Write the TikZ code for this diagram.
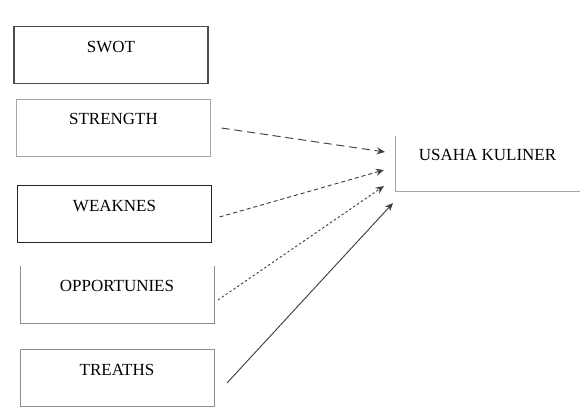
\documentclass[tikz,border=0pt]{standalone}
\usepackage{fontspec}
\setmainfont{Liberation Serif}
\usetikzlibrary{calc, positioning, arrows.meta}

\begin{document}
\begin{tikzpicture}[
    x=0.03cm, y=-0.03cm,
    >={Stealth[length=7pt, width=6pt]},
    font=\fontsize{14.5}{16}\selectfont,
    box/.style={minimum width=5.82cm, minimum height=1.71cm, inner sep=0pt,
        outer sep=0pt, text height=10pt, text depth=15pt},
    link/.style={->, draw=black!75, line width=0.8pt}
]
    \useasboundingbox (0, 0) rectangle (580, 406);

    % SWOT Boxes (Left Side)
    \node[box, draw=black!70, line width=0.9pt] (swot) at (111, 55) {SWOT};
    \node[box, draw=black!35, line width=0.8pt] (strength) at (113.5, 127.5) {STRENGTH};
    \node[box, draw=black!85, line width=1.3pt] (weak) at (114.5, 214) {WEAKNES};
    \node[box] (opp) at (117, 294.5) {OPPORTUNIES};
    \draw[black!45, line width=0.8pt] (opp.north west) -- (opp.south west)
        -- (opp.south east) -- (opp.north east);
    \node[box, draw=black!45, line width=0.8pt] (treaths) at (117, 378) {TREATHS};

    % Target Box (Right Side)
    \node[box, minimum width=5.55cm, minimum height=1.65cm] (usaha) at (487.5, 163.5) {USAHA KULINER};
    \draw[black!35, line width=0.8pt] (usaha.north west) -- (usaha.south west) -- (usaha.south east);

    % Arrow ends
    \coordinate (s1) at ($(strength.east)+(11, 0.5)$);
    \coordinate (s2) at ($(weak.east)+(8, 3)$);
    \coordinate (s3) at ($(opp.east)+(4, 5.5)$);
    \coordinate (s4) at ($(treaths.east)+(13, 5)$);
    \coordinate (t1) at ($(usaha.south west)+(-10, -39)$);
    \coordinate (t2) at ($(usaha.south west)+(-11, -21)$);
    \coordinate (t3) at ($(usaha.south west)+(-11, -5)$);
    \coordinate (t4) at ($(usaha.south west)+(-2, 12)$);

    % Connections
    \draw[link, dash pattern=on 7pt off 4pt] (s1) -- (t1);
    \draw[link, dash pattern=on 3.5pt off 2.5pt] (s2) -- (t2);
    \draw[link, dash pattern=on 2pt off 2pt] (s3) -- (t3);
    \draw[link] (s4) -- (t4);

\end{tikzpicture}
\end{document}
